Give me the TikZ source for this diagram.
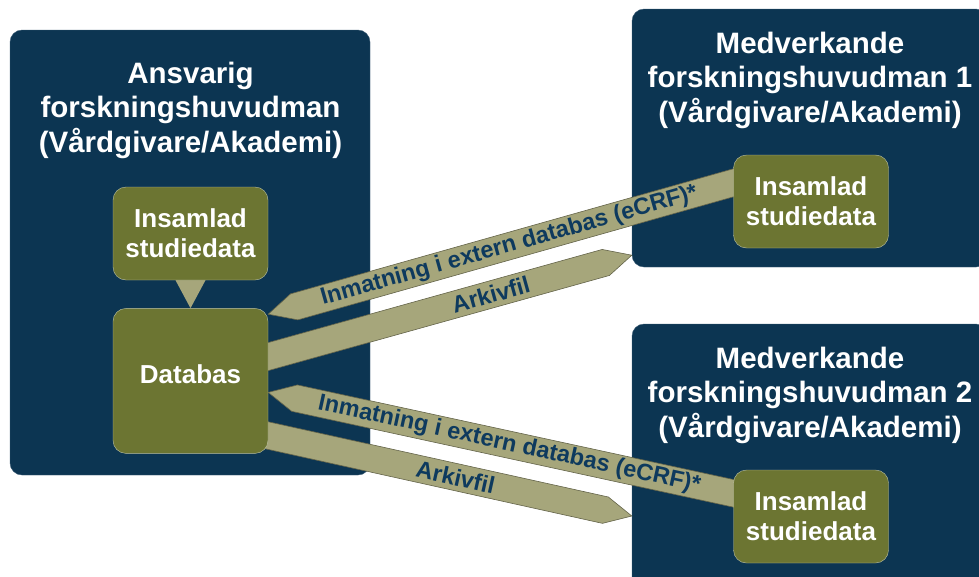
\documentclass[tikz,border=0pt]{standalone}
\usepackage{fontspec}
\setmainfont{Liberation Sans}
\usetikzlibrary{positioning,calc}
\definecolor{orgBlue}{RGB}{12,53,82}
\definecolor{dataGreen}{RGB}{108,117,50}
\definecolor{bandTan}{RGB}{166,166,123}
\definecolor{bandText}{RGB}{14,58,94}
\pgfdeclarelayer{back}
\pgfdeclarelayer{bands}
\pgfsetlayers{back,bands,main}
\tikzstyle{diagram} = [x = 1pt, y = -1pt]
\tikzstyle{orgStyle} = [fill=orgBlue, draw=orgBlue!80!white, rounded corners = 12pt, inner sep=0pt]
\tikzstyle{orgTitle} = [text=white, font=\bfseries\fontsize{29.5}{34.5}\selectfont, align=center]
\tikzstyle{dataStyle} = [fill=dataGreen, draw=dataGreen!45!white, rounded corners = 13pt, text=white, font=\bfseries\fontsize{26}{30}\selectfont, align=center, minimum width=155pt, inner sep=0pt]
\tikzstyle{bandStyle} = [fill=bandTan, draw=bandTan!60!black, line width=.6pt]
\tikzstyle{bandLabel} = [text=bandText, font=\bfseries\fontsize{23.5}{24}\selectfont, sloped, inner sep=0pt]
\newcommand{\bandWidth}{13.5pt}
\newcommand{\headLength}{27pt}
\newcommand{\band}[5]{
  \coordinate (#1Base) at ($(#3)!\headLength!(#2)$);
  \draw [bandStyle] ($(#2)!\bandWidth!90:(#3)$) -- ($(#1Base)!\bandWidth!90:(#3)$) -- (#3)
    -- ($(#1Base)!\bandWidth!-90:(#3)$) -- ($(#2)!\bandWidth!-90:(#3)$) -- cycle;
  \path (#2) -- (#3) node [bandLabel, pos=#4] {#5};
}

\begin{document}
\begin{tikzpicture}[diagram]
  \useasboundingbox (0,0) rectangle (979,576);
  \clip (0,0) rectangle (979,576);
  \begin{pgfonlayer}{back}
    \node [orgStyle, minimum width=360pt, minimum height=445pt] (ansvarig) at (190,252.5) {};
    \node [orgStyle, minimum width=356pt, minimum height=258pt] (medOne) at (810,138) {};
    \node [orgStyle, minimum width=356pt, minimum height=280pt] (medTwo) at (810,464) {};
  \end{pgfonlayer}
  \node [orgTitle] (ansvarigTitle) at (190.5,110) {Ansvarig\\forskningshuvudman\\(Vårdgivare/Akademi)};
  \node [orgTitle] (medOneTitle) at (810,80) {Medverkande\\forskningshuvudman 1\\(Vårdgivare/Akademi)};
  \node [orgTitle] (medTwoTitle) at (810,395) {Medverkande\\forskningshuvudman 2\\(Vårdgivare/Akademi)};

  \node [dataStyle, minimum height=93pt] (insL) at (190.5,233.5) {Insamlad\\studiedata};
  \node [dataStyle, minimum height=145pt, text depth=14pt, below=28pt of insL] (dbL) {Databas};
  \node [dataStyle, minimum height=93pt] (insOne) at (811,201.5) {Insamlad\\studiedata};
  \node [dataStyle, minimum height=93pt] (insTwo) at (811,516.5) {Insamlad\\studiedata};

  \coordinate (inOneStart) at ($(insOne.west)+(17,-23.5)$);
  \coordinate (inOneTip) at ($(dbL.north east)+(0,6)$);
  \coordinate (arkOneStart) at ($(dbL.east)+(-28,-16.5)$);
  \coordinate (arkOneTip) at ($(medOne.south west)+(0,-12)$);
  \coordinate (inTwoStart) at ($(insTwo.west)+(17,-19.5)$);
  \coordinate (inTwoTip) at ($(dbL.east)+(0,11.5)$);
  \coordinate (arkTwoStart) at ($(dbL.east)+(-28,48.5)$);
  \coordinate (arkTwoTip) at ($(medTwo.west)+(0,52)$);

  \begin{pgfonlayer}{bands}
    \fill [bandTan] ($(insL.south)+(-15,0)$) -- ($(insL.south)+(15,0)$) -- (dbL.north) -- cycle;
    \band{inOne}{inOneStart}{inOneTip}{0.5}{Inmatning i extern databas (eCRF)*}
    \band{arkOne}{arkOneStart}{arkOneTip}{0.64}{Arkivfil}
    \band{inTwo}{inTwoStart}{inTwoTip}{0.5}{Inmatning i extern databas (eCRF)*}
    \band{arkTwo}{arkTwoStart}{arkTwoTip}{0.55}{Arkivfil}
  \end{pgfonlayer}
\end{tikzpicture}
\end{document}
